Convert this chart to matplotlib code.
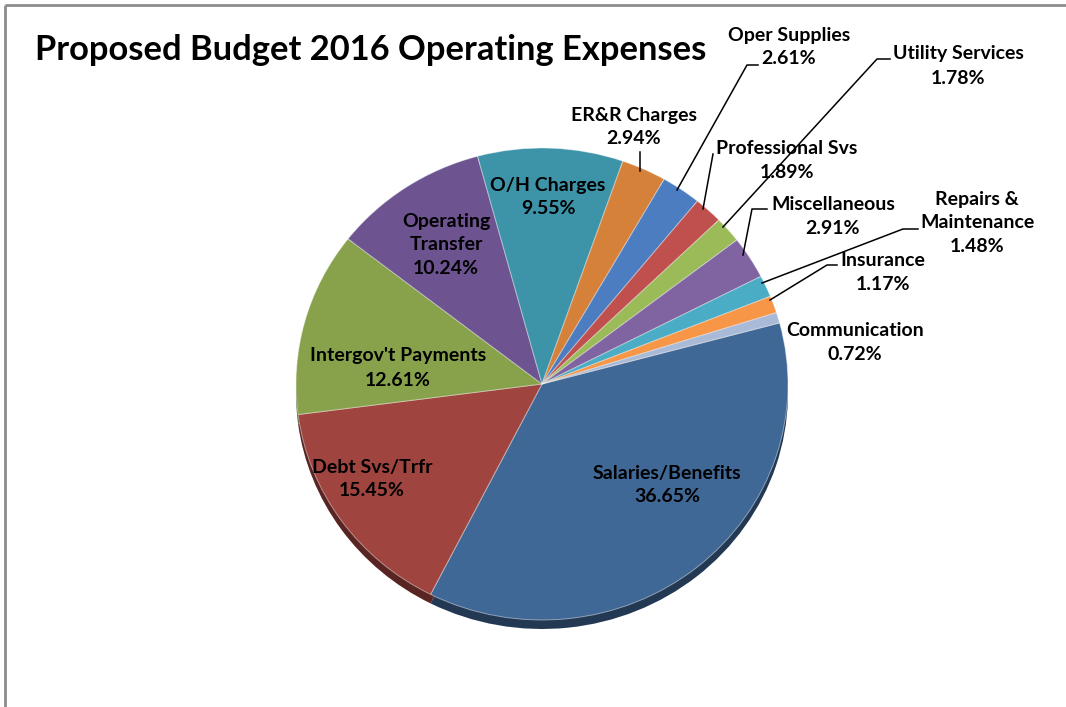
import matplotlib
matplotlib.use('Agg')
import matplotlib.pyplot as plt
from matplotlib.colors import to_rgb

plt.rcParams['font.family'] = ['Lato', 'DejaVu Sans']

# 费用类别及占比(%)
categories = ['Salaries/Benefits', 'Debt Svs/Trfr', "Intergov't Payments", 'Operating\nTransfer',
              'O/H Charges', 'ER&R Charges', 'Oper Supplies', 'Professional Svs', 'Utility Services',
              'Miscellaneous', 'Repairs &\nMaintenance', 'Insurance', 'Communication']
shares = [36.65, 15.45, 12.61, 10.24, 9.55, 2.94, 2.61, 1.89, 1.78, 2.91, 1.48, 1.17, 0.72]
colors = ['#406896', '#A0443F', '#87A24A', '#6D5390', '#3D93A8', '#D5813A', '#4B7DC0',
          '#C0504D', '#9BBB59', '#8064A2', '#4BACC6', '#F79646', '#A9BAD8']

W, H = 1066, 707
cx, cy, rx, ry = 542, 384, 246, 236
rim = 9

# 标签位置(像素) 与 引导线
label_pos = [(667, 485), (372, 479), (398, 368), (446, 245), (548, 197), (634, 127), (789, 47),
             (787, 161), (958, 66), (833, 217), (977, 223), (883, 272), (855, 343)]
leaders = {5: [(640, 152), (640, 171)],
           6: [(677, 190), (747, 65), (758, 65)],
           7: [(703, 209), (713, 154)],
           8: [(723, 227), (877, 59), (890, 59)],
           9: [(743, 255), (752, 209), (767, 209)],
           10: [(762, 283), (903, 229), (918, 229)],
           11: [(770, 300), (827, 265), (837, 265)]}


def px_axes(x0, y0, w, h):
    return fig.add_axes([x0 / W, 1 - (y0 + h) / H, w / W, h / H])


def darker(c, f=0.55):
    r, g, b = to_rgb(c)
    return (r * f, g * f, b * f)


fig = plt.figure(figsize=(W / 100, H / 100), dpi=100)

# 底部厚度(伪3D)
ax_rim = px_axes(cx - rx, cy - ry + rim, 2 * rx, 2 * ry)
ax_rim.pie(shares, colors=[darker(c) for c in colors], startangle=15, counterclock=False,
           wedgeprops=dict(linewidth=0))
ax_rim.set_aspect('auto')
ax_rim.set_xlim(-1, 1)
ax_rim.set_ylim(-1, 1)
ax_rim.axis('off')

ax = px_axes(cx - rx, cy - ry, 2 * rx, 2 * ry)
ax.pie(shares, colors=colors, startangle=15, counterclock=False,
       wedgeprops=dict(edgecolor=(1, 1, 1, 0.45), linewidth=0.7))
ax.set_aspect('auto')
ax.set_xlim(-1, 1)
ax.set_ylim(-1, 1)
ax.axis('off')

ov = fig.add_axes([0, 0, 1, 1])
ov.set_xlim(0, W)
ov.set_ylim(H, 0)
ov.axis('off')
ov.patch.set_alpha(0)

# 边框
ov.plot([5, 5], [H, 5], color='#8c8c8c', lw=2, solid_capstyle='butt')
ov.plot([5, W], [5, 5], color='#8c8c8c', lw=2, solid_capstyle='butt')

ov.text(35, 60, 'Proposed Budget 2016 Operating Expenses', fontsize=24.8, fontweight='bold',
        ha='left', va='baseline', color='black')

for i, (name, val) in enumerate(zip(categories, shares)):
    x, y = label_pos[i]
    ov.text(x, y, f'{name}\n{val:.2f}%', fontsize=14, fontweight='bold', ha='center',
            va='center', linespacing=1.5, color='black')

for pts in leaders.values():
    xs, ys = zip(*pts)
    ov.plot(xs, ys, color='black', lw=1.1)

plt.savefig('out.png', dpi=100)
plt.close()
